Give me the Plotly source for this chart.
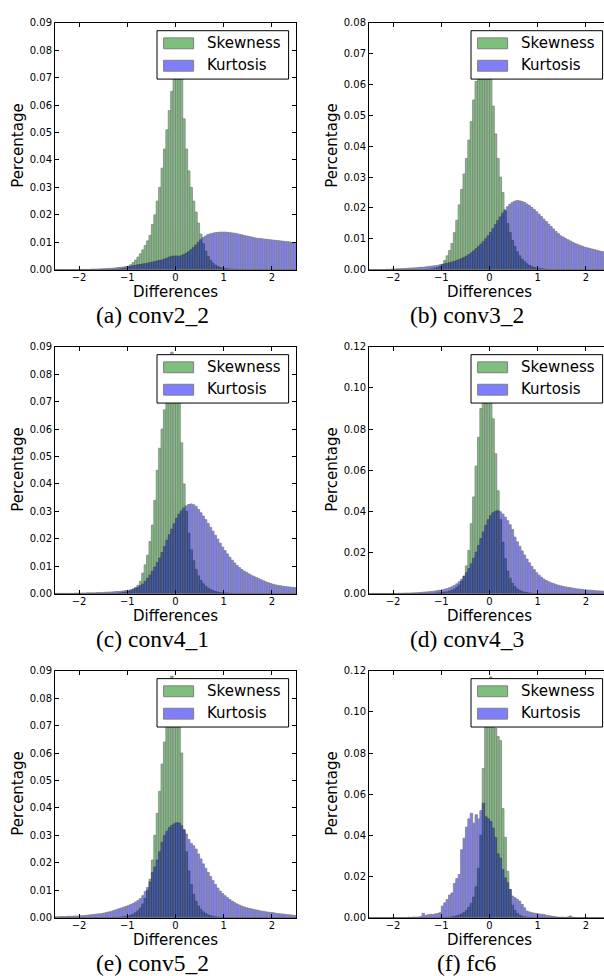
import plotly.graph_objects as go

# ---------------- data ----------------
bin_start = -2.5
bin_width = 0.05
n_bins = 100
bin_centers = [round(bin_start + bin_width * (i + 0.5), 4) for i in range(n_bins)]

captions = ["(a) conv2_2", "(b) conv3_2", "(c) conv4_1",
            "(d) conv4_3", "(e) conv5_2", "(f) fc6"]
series_names = ["Skewness", "Kurtosis"]
x_tick_vals = [-2, -1, 0, 1, 2]
y_max = [0.09, 0.08, 0.09, 0.12, 0.09, 0.12]
y_step = [0.01, 0.01, 0.01, 0.02, 0.01, 0.02]

conv2_2_skewness = [
    0, 0, 0, 0, 0, 0, 0, 0, 0, 0,
    0, 0, 0, 0, 0, 0, 0, 0, 0, 0,
    0, 0, 0, 0, 0.0001, 0.0001, 0.0002, 0.0003, 0.0004, 0.0006,
    0.0012, 0.0018, 0.0026, 0.0035, 0.0046, 0.0058, 0.0072, 0.0088, 0.0105, 0.0125,
    0.0165, 0.0200, 0.0250, 0.0300, 0.0370, 0.0440, 0.0510, 0.0580, 0.0650, 0.0750,
    0.0820, 0.0800, 0.0720, 0.0550, 0.0440, 0.0360, 0.0300, 0.0250, 0.0210, 0.0170,
    0.0130, 0.0095, 0.0068, 0.0048, 0.0034, 0.0024, 0.0017, 0.0012, 0.0008, 0.0006,
    0.0004, 0.0003, 0.0002, 0.0002, 0.0001, 0.0001, 0, 0, 0, 0,
    0, 0, 0, 0, 0, 0, 0, 0, 0, 0,
    0, 0, 0, 0, 0, 0, 0, 0, 0, 0,
]
conv2_2_kurtosis = [
    0, 0, 0, 0, 0, 0, 0, 0, 0, 0.0001,
    0.0001, 0.0001, 0.0001, 0.0001, 0.0001, 0.0002, 0.0002, 0.0002, 0.0003, 0.0003,
    0.0004, 0.0004, 0.0005, 0.0005, 0.0006, 0.0007, 0.0008, 0.0009, 0.0010, 0.0011,
    0.0012, 0.0013, 0.0015, 0.0016, 0.0018, 0.0019, 0.0021, 0.0022, 0.0024, 0.0026,
    0.0028, 0.0030, 0.0032, 0.0034, 0.0036, 0.0039, 0.0042, 0.0046, 0.0049, 0.0050,
    0.0050, 0.0049, 0.0051, 0.0055, 0.0060, 0.0066, 0.0073, 0.0081, 0.0090, 0.0100,
    0.0109, 0.0117, 0.0123, 0.0128, 0.0131, 0.0133, 0.0135, 0.0136, 0.0137, 0.0137,
    0.0137, 0.0136, 0.0135, 0.0134, 0.0133, 0.0131, 0.0129, 0.0127, 0.0125, 0.0123,
    0.0121, 0.0119, 0.0117, 0.0115, 0.0114, 0.0113, 0.0112, 0.0111, 0.0110, 0.0109,
    0.0108, 0.0107, 0.0106, 0.0105, 0.0104, 0.0103, 0.0102, 0.0101, 0.0099, 0.0097,
]

conv3_2_skewness = [
    0, 0, 0, 0, 0, 0, 0, 0, 0, 0,
    0, 0, 0, 0, 0, 0, 0, 0, 0, 0,
    0, 0, 0, 0, 0.0001, 0.0002, 0.0003, 0.0005, 0.0007, 0.0010,
    0.0018, 0.0030, 0.0045, 0.0062, 0.0085, 0.0120, 0.0160, 0.0210, 0.0260, 0.0310,
    0.0360, 0.0420, 0.0480, 0.0550, 0.0610, 0.0660, 0.0690, 0.0700, 0.0680, 0.0660,
    0.0620, 0.0530, 0.0440, 0.0360, 0.0300, 0.0250, 0.0190, 0.0150, 0.0120, 0.0095,
    0.0075, 0.0058, 0.0045, 0.0034, 0.0026, 0.0019, 0.0014, 0.0010, 0.0007, 0.0005,
    0.0004, 0.0003, 0.0002, 0.0001, 0.0001, 0, 0, 0, 0, 0,
    0, 0, 0, 0, 0, 0, 0, 0, 0, 0,
    0, 0, 0, 0, 0, 0, 0, 0, 0, 0,
]
conv3_2_kurtosis = [
    0, 0, 0, 0, 0, 0, 0, 0.0001, 0.0001, 0.0002,
    0.0002, 0.0003, 0.0003, 0.0003, 0.0004, 0.0004, 0.0005, 0.0005, 0.0006, 0.0006,
    0.0007, 0.0008, 0.0008, 0.0009, 0.0010, 0.0011, 0.0012, 0.0013, 0.0014, 0.0016,
    0.0017, 0.0019, 0.0021, 0.0023, 0.0025, 0.0027, 0.0030, 0.0033, 0.0036, 0.0040,
    0.0044, 0.0049, 0.0055, 0.0061, 0.0068, 0.0075, 0.0083, 0.0091, 0.0100, 0.0110,
    0.0121, 0.0133, 0.0146, 0.0159, 0.0171, 0.0183, 0.0194, 0.0204, 0.0212, 0.0218,
    0.0222, 0.0224, 0.0223, 0.0221, 0.0218, 0.0213, 0.0208, 0.0202, 0.0195, 0.0188,
    0.0180, 0.0172, 0.0164, 0.0156, 0.0148, 0.0140, 0.0132, 0.0124, 0.0117, 0.0110,
    0.0106, 0.0101, 0.0097, 0.0093, 0.0089, 0.0085, 0.0082, 0.0079, 0.0076, 0.0073,
    0.0071, 0.0069, 0.0067, 0.0065, 0.0063, 0.0061, 0.0059, 0.0058, 0.0057, 0.0056,
]

conv4_1_skewness = [
    0, 0, 0, 0, 0, 0, 0, 0, 0, 0,
    0, 0, 0, 0, 0, 0, 0, 0, 0, 0,
    0, 0, 0, 0, 0.0001, 0.0001, 0.0002, 0.0003, 0.0004, 0.0006,
    0.0008, 0.0011, 0.0016, 0.0022, 0.0030, 0.0045, 0.0075, 0.0105, 0.0140, 0.0190,
    0.0250, 0.0340, 0.0450, 0.0530, 0.0600, 0.0670, 0.0740, 0.0810, 0.0880, 0.0850,
    0.0790, 0.0700, 0.0550, 0.0400, 0.0300, 0.0220, 0.0160, 0.0120, 0.0088, 0.0065,
    0.0048, 0.0036, 0.0027, 0.0020, 0.0015, 0.0011, 0.0008, 0.0006, 0.0004, 0.0003,
    0.0002, 0.0002, 0.0001, 0.0001, 0, 0, 0, 0, 0, 0,
    0, 0, 0, 0, 0, 0, 0, 0, 0, 0,
    0, 0, 0, 0, 0, 0, 0, 0, 0, 0,
]
conv4_1_kurtosis = [
    0.0001, 0.0001, 0.0001, 0.0001, 0.0001, 0.0001, 0.0001, 0.0001, 0.0002, 0.0002,
    0.0002, 0.0002, 0.0002, 0.0003, 0.0003, 0.0003, 0.0003, 0.0004, 0.0004, 0.0004,
    0.0005, 0.0005, 0.0006, 0.0006, 0.0007, 0.0008, 0.0008, 0.0009, 0.0010, 0.0011,
    0.0012, 0.0014, 0.0017, 0.0020, 0.0024, 0.0029, 0.0035, 0.0045, 0.0056, 0.0068,
    0.0082, 0.0097, 0.0113, 0.0130, 0.0150, 0.0172, 0.0195, 0.0215, 0.0235, 0.0255,
    0.0275, 0.0290, 0.0302, 0.0312, 0.0320, 0.0325, 0.0327, 0.0324, 0.0318, 0.0307,
    0.0295, 0.0283, 0.0270, 0.0256, 0.0242, 0.0228, 0.0213, 0.0199, 0.0184, 0.0170,
    0.0157, 0.0145, 0.0133, 0.0122, 0.0112, 0.0103, 0.0095, 0.0088, 0.0082, 0.0077,
    0.0072, 0.0067, 0.0063, 0.0059, 0.0055, 0.0051, 0.0047, 0.0043, 0.0040, 0.0037,
    0.0034, 0.0032, 0.0030, 0.0029, 0.0027, 0.0026, 0.0025, 0.0024, 0.0023, 0.0022,
]

conv4_3_skewness = [
    0, 0, 0, 0, 0, 0, 0, 0, 0, 0,
    0, 0, 0, 0, 0, 0, 0, 0, 0, 0,
    0, 0, 0, 0, 0, 0.0001, 0.0001, 0.0002, 0.0003, 0.0004,
    0.0005, 0.0007, 0.0009, 0.0012, 0.0016, 0.0022, 0.0030, 0.0042, 0.0060, 0.0085,
    0.0135, 0.0210, 0.0340, 0.0470, 0.0620, 0.0760, 0.0900, 0.1000, 0.1040, 0.1020,
    0.0970, 0.0850, 0.0680, 0.0500, 0.0360, 0.0250, 0.0170, 0.0110, 0.0075, 0.0050,
    0.0034, 0.0023, 0.0015, 0.0010, 0.0007, 0.0005, 0.0003, 0.0002, 0.0001, 0.0001,
    0, 0, 0, 0, 0, 0, 0, 0, 0, 0,
    0, 0, 0, 0, 0, 0, 0, 0, 0, 0,
    0, 0, 0, 0, 0, 0, 0, 0, 0, 0,
]
conv4_3_kurtosis = [
    0.0001, 0.0001, 0.0001, 0.0001, 0.0001, 0.0001, 0.0001, 0.0001, 0.0001, 0.0001,
    0.0001, 0.0001, 0.0002, 0.0002, 0.0002, 0.0003, 0.0003, 0.0003, 0.0004, 0.0004,
    0.0005, 0.0006, 0.0007, 0.0008, 0.0009, 0.0010, 0.0011, 0.0013, 0.0015, 0.0017,
    0.0019, 0.0022, 0.0025, 0.0029, 0.0034, 0.0040, 0.0048, 0.0058, 0.0070, 0.0085,
    0.0102, 0.0122, 0.0145, 0.0172, 0.0202, 0.0235, 0.0268, 0.0300, 0.0332, 0.0360,
    0.0380, 0.0393, 0.0400, 0.0403, 0.0398, 0.0387, 0.0372, 0.0355, 0.0335, 0.0312,
    0.0275, 0.0252, 0.0230, 0.0208, 0.0188, 0.0168, 0.0150, 0.0133, 0.0117, 0.0102,
    0.0090, 0.0080, 0.0071, 0.0064, 0.0058, 0.0053, 0.0049, 0.0045, 0.0041, 0.0038,
    0.0035, 0.0033, 0.0031, 0.0029, 0.0027, 0.0025, 0.0023, 0.0022, 0.0021, 0.0019,
    0.0018, 0.0017, 0.0016, 0.0015, 0.0014, 0.0013, 0.0013, 0.0012, 0.0011, 0.0011,
]

conv5_2_skewness = [
    0, 0, 0, 0, 0, 0, 0, 0, 0, 0,
    0, 0, 0, 0, 0, 0, 0, 0, 0, 0,
    0, 0, 0, 0, 0, 0.0001, 0.0001, 0.0002, 0.0003, 0.0004,
    0.0006, 0.0009, 0.0013, 0.0018, 0.0025, 0.0035, 0.0050, 0.0070, 0.0100, 0.0140,
    0.0210, 0.0300, 0.0380, 0.0460, 0.0560, 0.0640, 0.0720, 0.0800, 0.0880, 0.0850,
    0.0800, 0.0700, 0.0600, 0.0320, 0.0240, 0.0170, 0.0120, 0.0085, 0.0060, 0.0042,
    0.0030, 0.0021, 0.0015, 0.0010, 0.0007, 0.0005, 0.0003, 0.0002, 0.0001, 0.0001,
    0, 0, 0, 0, 0, 0, 0, 0, 0, 0,
    0, 0, 0, 0, 0, 0, 0, 0, 0, 0,
    0, 0, 0, 0, 0, 0, 0, 0, 0, 0,
]
conv5_2_kurtosis = [
    0.0003, 0.0003, 0.0004, 0.0004, 0.0004, 0.0005, 0.0005, 0.0005, 0.0006, 0.0006,
    0.0007, 0.0007, 0.0008, 0.0009, 0.0010, 0.0011, 0.0012, 0.0013, 0.0014, 0.0015,
    0.0017, 0.0019, 0.0021, 0.0023, 0.0026, 0.0029, 0.0032, 0.0035, 0.0038, 0.0041,
    0.0044, 0.0048, 0.0052, 0.0057, 0.0063, 0.0070, 0.0080, 0.0095, 0.0110, 0.0130,
    0.0165, 0.0185, 0.0210, 0.0240, 0.0275, 0.0300, 0.0315, 0.0328, 0.0336, 0.0342,
    0.0346, 0.0345, 0.0335, 0.0320, 0.0305, 0.0285, 0.0270, 0.0262, 0.0250, 0.0232,
    0.0214, 0.0196, 0.0180, 0.0165, 0.0150, 0.0135, 0.0121, 0.0108, 0.0097, 0.0088,
    0.0080, 0.0073, 0.0066, 0.0060, 0.0055, 0.0050, 0.0046, 0.0042, 0.0039, 0.0036,
    0.0034, 0.0032, 0.0030, 0.0028, 0.0026, 0.0024, 0.0023, 0.0021, 0.0020, 0.0019,
    0.0018, 0.0016, 0.0015, 0.0014, 0.0013, 0.0012, 0.0011, 0.0010, 0.0009, 0.0008,
]

fc6_skewness = [
    0, 0, 0, 0, 0, 0, 0, 0, 0, 0,
    0, 0, 0, 0, 0, 0, 0, 0, 0, 0,
    0, 0, 0, 0, 0, 0, 0, 0, 0, 0,
    0, 0, 0.0001, 0.0002, 0.0004, 0.0006, 0.0009, 0.0013, 0.0018, 0.0025,
    0.0035, 0.0050, 0.0070, 0.0100, 0.0150, 0.0240, 0.0400, 0.0725, 0.0980, 0.1100,
    0.1170, 0.1050, 0.0920, 0.0880, 0.0860, 0.0530, 0.0390, 0.0225, 0.0137, 0.0060,
    0.0035, 0.0020, 0.0012, 0.0007, 0.0004, 0.0002, 0.0001, 0, 0, 0,
    0, 0, 0, 0, 0, 0, 0, 0, 0, 0,
    0, 0, 0, 0, 0, 0, 0, 0, 0, 0,
    0, 0, 0, 0, 0, 0, 0, 0, 0, 0,
]
fc6_kurtosis = [
    0, 0, 0, 0, 0, 0, 0, 0, 0, 0,
    0, 0, 0, 0, 0, 0, 0.0002, 0, 0.0003, 0.0002,
    0.0003, 0.0005, 0.0021, 0.0011, 0.0014, 0.0016, 0.0015, 0.0018, 0.0020, 0.0024,
    0.0056, 0.0072, 0.0088, 0.0110, 0.0120, 0.0166, 0.0190, 0.0210, 0.0330, 0.0386,
    0.0440, 0.0480, 0.0507, 0.0459, 0.0500, 0.0480, 0.0520, 0.0556, 0.0490, 0.0480,
    0.0467, 0.0435, 0.0390, 0.0310, 0.0290, 0.0233, 0.0193, 0.0170, 0.0137, 0.0105,
    0.0097, 0.0089, 0.0080, 0.0064, 0.0048, 0.0032, 0.0028, 0.0024, 0.0022, 0.0020,
    0.0018, 0.0016, 0.0016, 0.0012, 0.0010, 0.0008, 0.0006, 0.0004, 0.0003, 0.0002,
    0.0002, 0.0001, 0.0003, 0.0008, 0.0002, 0.0001, 0, 0, 0, 0,
    0, 0, 0, 0, 0, 0, 0, 0, 0, 0,
]

skewness_series = [conv2_2_skewness, conv3_2_skewness, conv4_1_skewness,
                   conv4_3_skewness, conv5_2_skewness, fc6_skewness]
kurtosis_series = [conv2_2_kurtosis, conv3_2_kurtosis, conv4_1_kurtosis,
                   conv4_3_kurtosis, conv5_2_kurtosis, fc6_kurtosis]
for s in skewness_series + kurtosis_series:
    assert len(s) == n_bins

# ---------------- layout / style ----------------
W, H = 604, 976
col_left = [55, 369]
col_width = [241, 235]
col_xmax = [2.5, 2.375]
row_top = [17, 345, 673]
plot_h = 250
caption_cx = [152.5, 466.5]

green = "#008000"
blue = "#0000ff"
sans = "DejaVu Sans"
serif = "Liberation Serif"


def px(x):
    return x / W


def py(y):
    return 1 - y / H


fig = go.Figure()
layout = dict(width=W, height=H, margin=dict(l=0, r=0, t=0, b=0),
              paper_bgcolor="white", plot_bgcolor="white",
              showlegend=False, barmode="overlay")
shapes = []
annotations = []

for i in range(6):
    r, c = divmod(i, 2)
    L, T = col_left[c], row_top[r]
    w = col_width[c]
    n = "" if i == 0 else str(i + 1)
    xa, ya = "x" + n, "y" + n

    for vals, color, name in ((skewness_series[i], green, series_names[0]),
                              (kurtosis_series[i], blue, series_names[1])):
        fig.add_trace(go.Bar(
            x=bin_centers, y=vals, width=bin_width, name=name,
            marker=dict(color=color, line=dict(color="black", width=0.8)),
            opacity=0.5, xaxis=xa, yaxis=ya, showlegend=False,
            hovertemplate=name + " %{x}: %{y}<extra></extra>"))

    axis_common = dict(showline=True, linecolor="black", linewidth=1,
                       ticks="inside", ticklen=4, tickwidth=1, tickcolor="black",
                       showgrid=False, zeroline=False,
                       tickfont=dict(family=sans, size=10, color="black"))
    layout["xaxis" + n] = dict(
        domain=[px(L), min(1.0, px(L + w))], anchor=ya,
        range=[-2.5, col_xmax[c]], tickvals=x_tick_vals,
        mirror="ticks", ticklabelstandoff=-2, **axis_common)
    layout["yaxis" + n] = dict(
        domain=[py(T + plot_h), py(T)], anchor=xa,
        range=[0, y_max[i]], dtick=y_step[i], tick0=0, tickformat=".2f",
        mirror="ticks" if c == 0 else False, **axis_common)

    # legend box (drawn on top of the bars, like matplotlib)
    shapes.append(dict(type="rect", xref="paper", yref="paper",
                       x0=px(L + 102), x1=px(L + 233.6), y0=py(T + 8), y1=py(T + 57),
                       fillcolor="white", line=dict(color="black", width=1), layer="above"))
    for k, (color, name) in enumerate(((green, series_names[0]), (blue, series_names[1]))):
        top = T + 15.3 + k * 22.7
        shapes.append(dict(type="rect", xref="paper", yref="paper",
                           x0=px(L + 108.6), x1=px(L + 138.6), y0=py(top), y1=py(top + 11),
                           fillcolor=color, opacity=0.5,
                           line=dict(color="black", width=1), layer="above"))
        annotations.append(dict(text=name, xref="paper", yref="paper",
                                x=px(L + 150), y=py(T + 20.7 + k * 22.3),
                                xanchor="left", yanchor="middle", showarrow=False,
                                font=dict(family=sans, size=15, color="black")))

    # axis titles
    annotations.append(dict(text="Differences", xref="paper", yref="paper",
                            x=px(L + 120.5), y=py(T + 273), xanchor="center",
                            yanchor="middle", showarrow=False,
                            font=dict(family=sans, size=15, color="black")))
    annotations.append(dict(text="Percentage", xref="paper", yref="paper",
                            x=px(L - 36.5), y=py(T + 125), xanchor="center",
                            yanchor="middle", showarrow=False, textangle=-90,
                            font=dict(family=sans, size=15, color="black")))
    # caption
    annotations.append(dict(text=captions[i], xref="paper", yref="paper",
                            x=px(caption_cx[c]), y=py(T + 295.5), xanchor="center",
                            yanchor="middle", showarrow=False,
                            font=dict(family=serif, size=23.5, color="black")))

layout["shapes"] = shapes
layout["annotations"] = annotations
fig.update_layout(**layout)
fig.write_html("out.html", config={"displayModeBar": False},
               post_script="document.body.style.margin='0';document.body.style.padding='0';")
